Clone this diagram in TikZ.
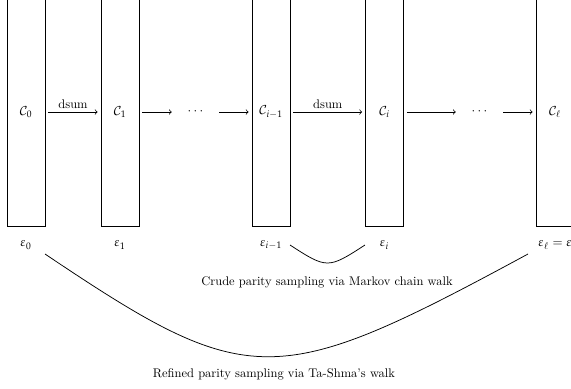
\documentclass[tikz,border=0pt]{standalone}
\usepackage{mathpazo}
\begin{document}
\begin{tikzpicture}[x=0.8pt,y=-0.8pt,
  cbox/.style={draw, line width=0.6pt, minimum width=30.4pt, minimum height=182.4pt, inner sep=0pt},
  dotsnode/.style={minimum width=32.8pt, inner sep=0pt},
  arr/.style={->, line width=0.6pt, shorten <=2.4pt, shorten >=2.4pt},
  arc/.style={line width=0.6pt},
  lbl/.style={inner sep=1pt}]
\useasboundingbox (0,0) rectangle (571,389);
\clip (0,0) rectangle (571,389);
% boxes
\node[cbox] (b0) at (26,112) {$\mathcal{C}_0$};
\node[cbox] (b1) at (120,112) {$\mathcal{C}_1$};
\node[dotsnode] (d1) at (195.5,112) {$\cdots$};
\node[cbox] (bm) at (271,112) {$\mathcal{C}_{i-1}$};
\node[cbox] (bi) at (384.5,112) {$\mathcal{C}_i$};
\node[dotsnode] (d2) at (479.5,112) {$\cdots$};
\node[cbox] (bl) at (555,112) {$\mathcal{C}_\ell$};
% arrows
\draw[arr] (b0) -- node[above, inner sep=2pt] (s1) {dsum} (b1);
\draw[arr] (b1) -- (d1);
\draw[arr] (d1) -- (bm);
\draw[arr] (bm) -- node[above, inner sep=2pt] (s2) {dsum} (bi);
\draw[arr] (bi) -- (d2);
\draw[arr] (d2) -- (bl);
% error labels
\node[lbl] (e0) at (26,245) {$\varepsilon_0$};
\node[lbl] (e1) at (120,245) {$\varepsilon_1$};
\node[lbl] (em) at (271,245) {$\varepsilon_{i-1}$};
\node[lbl] (ei) at (384.5,245) {$\varepsilon_i$};
\node[lbl] (el) at (555,245) {$\varepsilon_\ell = \varepsilon$};
% walks
\coordinate (c1a) at (290,245);
\coordinate (c1b) at (365,245);
\coordinate (c2a) at (45,254);
\coordinate (c2b) at (528,254);
\draw[arc] (c1a) .. controls (327,269) and (328,269) .. (c1b);
\draw[arc] (c2a) .. controls (249,391) and (275,391) .. (c2b);
\node[lbl] (t1) at (327,282) {Crude parity sampling via Markov chain walk};
\node[lbl] (t2) at (274,374) {Refined parity sampling via Ta-Shma's walk};
\end{tikzpicture}
\end{document}
